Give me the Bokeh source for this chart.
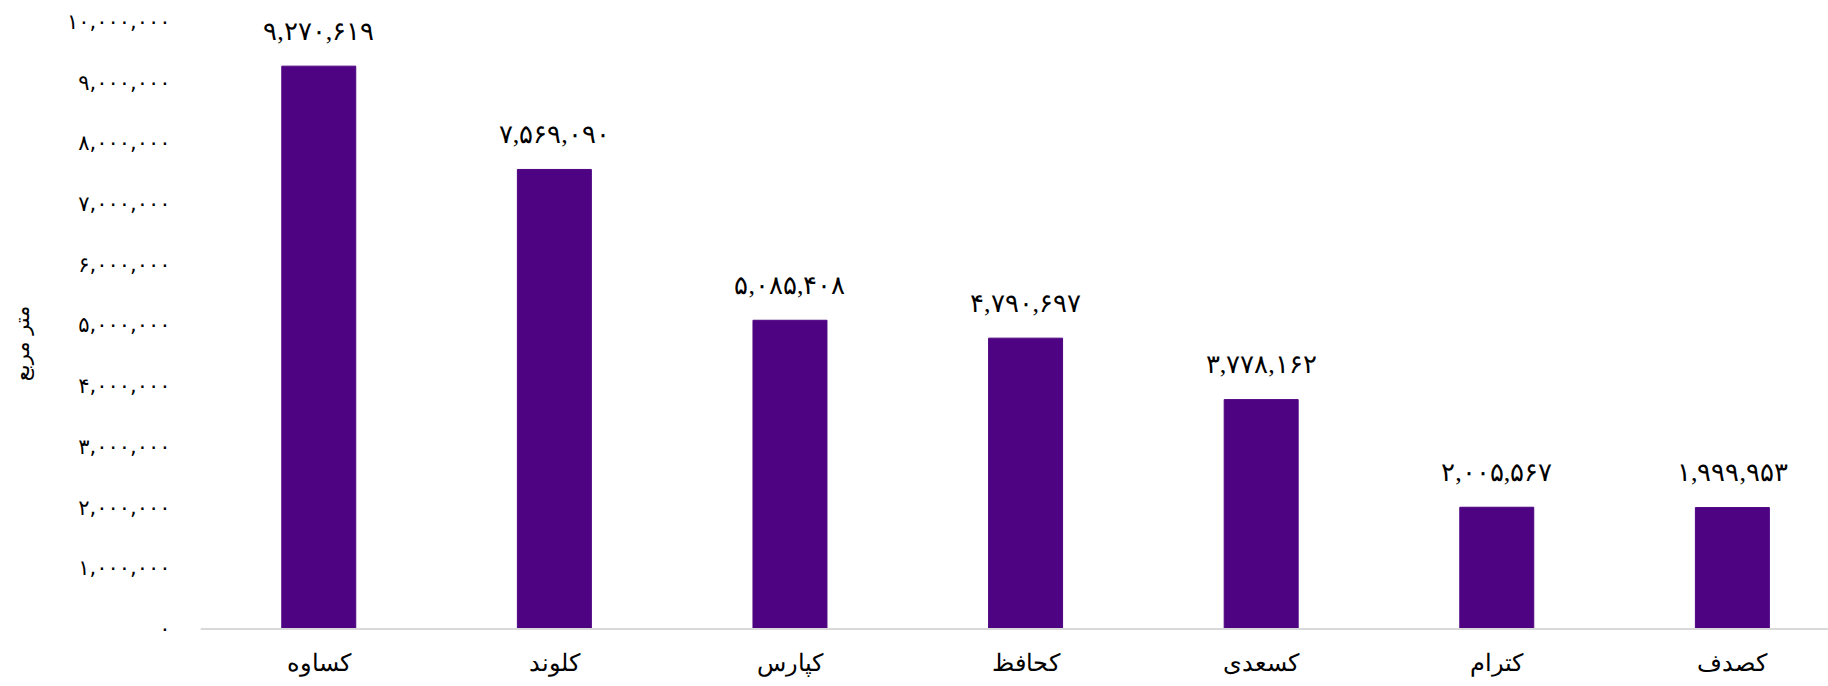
from bokeh.plotting import figure
from bokeh.models import ColumnDataSource, Range1d, FixedTicker, LabelSet, Span
from bokeh.embed import file_html
from bokeh.resources import INLINE

# ---- data ----
categories = ["کساوه", "کلوند", "کپارس", "کحافظ", "کسعدی", "کترام", "کصدف"]
values = [9270619, 7569090, 5085408, 4790697, 3778162, 2005567, 1999953]
y_ticks = [0, 1000000, 2000000, 3000000, 4000000, 5000000,
           6000000, 7000000, 8000000, 9000000, 10000000]
y_title = "متر مربع"

FA_DIGITS = str.maketrans("0123456789", "۰۱۲۳۴۵۶۷۸۹")


def to_fa(n):
    return f"{n:,}".translate(FA_DIGITS)


FONT = "DejaVu Sans, sans-serif"
BAR_COLOR = "#4e0482"

xs = list(range(len(categories)))
source = ColumnDataSource(dict(
    x=xs,
    value=values,
    label=[to_fa(v) for v in values],
    cat=categories,
    base=[0] * len(categories),
))

p = figure(
    width=1828, height=686,
    output_backend="svg", toolbar_location=None,
    x_range=Range1d(-0.502, 6.408),
    y_range=Range1d(-947000, 10352000),
    min_border_left=200, min_border_right=0,
    min_border_top=0, min_border_bottom=0,
)
p.outline_line_color = None
p.xgrid.visible = False
p.ygrid.visible = False
p.xaxis.visible = False

p.vbar(x="x", top="value", width=0.314, source=source,
       fill_color=BAR_COLOR, line_color=BAR_COLOR)

# baseline at y = 0
p.add_layout(Span(location=0, dimension="width",
                  line_color="#d9d9d9", line_width=2))

value_labels = LabelSet(x="x", y="value", text="label", source=source,
                        text_align="center", text_baseline="middle",
                        y_offset=35, text_font=FONT, text_font_size="26px",
                        text_color="#000000")
p.add_layout(value_labels)

cat_labels = LabelSet(x="x", y="base", text="cat", source=source,
                      text_align="center", text_baseline="middle",
                      y_offset=-34, text_font=FONT, text_font_size="24px",
                      text_color="#000000")
p.add_layout(cat_labels)

# y axis
ya = p.yaxis[0]
ya.ticker = FixedTicker(ticks=y_ticks)
ya.major_label_overrides = {t: to_fa(t) for t in y_ticks}
ya.axis_line_color = None
ya.major_tick_line_color = None
ya.minor_tick_line_color = None
ya.major_tick_out = 0
ya.major_label_standoff = 30
ya.major_label_text_font = FONT
ya.major_label_text_font_size = "21px"
ya.major_label_text_color = "#000000"
ya.axis_label = y_title
ya.axis_label_text_font = FONT
ya.axis_label_text_font_size = "21px"
ya.axis_label_text_font_style = "normal"
ya.axis_label_text_color = "#000000"
ya.axis_label_standoff = 30

open("out.html", "w").write(file_html(p, INLINE))
